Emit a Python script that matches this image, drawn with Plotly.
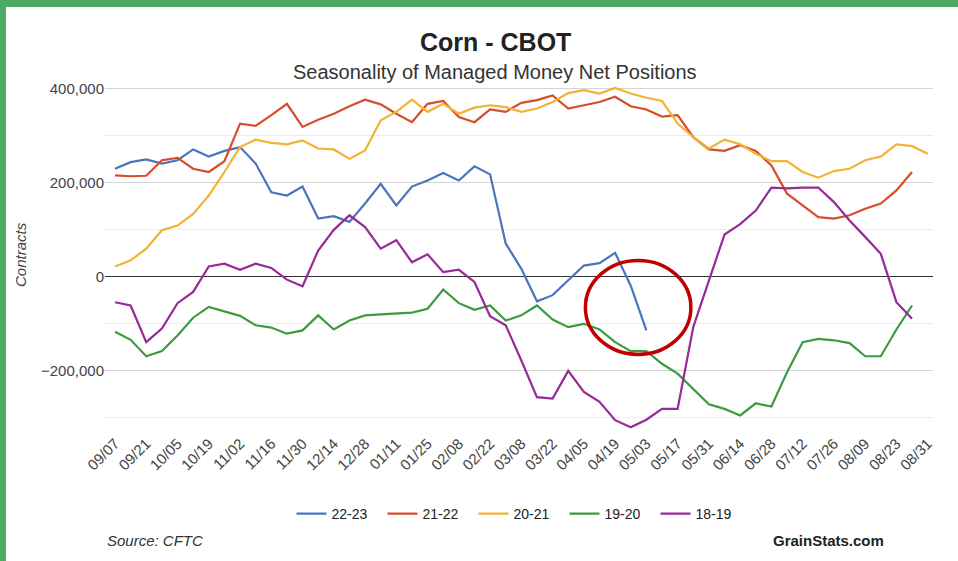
import plotly.graph_objects as go

# weekly x positions (week index from 09/07) and axis labels
weeks = list(range(53))
tick_labels = ["09/07", "09/21", "10/05", "10/19", "11/02", "11/16", "11/30", "12/14", "12/28",
               "01/11", "01/25", "02/08", "02/22", "03/08", "03/22", "04/05", "04/19", "05/03",
               "05/17", "05/31", "06/14", "06/28", "07/12", "07/26", "08/09", "08/23", "08/31"]

# managed money net positions (contracts)
s_22_23 = [229000, 243000, 249000, 240000, 247000, 270000, 255000, 267000, 275000, 240000,
           179000, 172000, 191000, 123000, 128000, 116000, 155000, 197000, 151000, 191000,
           204000, 220000, 204000, 234000, 217000, 70000, 16000, -53000, -40000, -9000,
           23000, 28000, 50000, -20000, -115000]
s_21_22 = [215000, 213000, 214000, 247000, 252000, 229000, 222000, 245000, 325000, 320000,
           343000, 367000, 318000, 333000, 346000, 362000, 376000, 366000, 346000, 328000,
           367000, 373000, 339000, 328000, 355000, 350000, 369000, 375000, 385000, 357000,
           364000, 371000, 382000, 362000, 355000, 340000, 343000, 296000, 270000, 267000,
           279000, 267000, 236000, 176000, 151000, 126000, 123000, 130000, 144000, 155000,
           183000, 222000]
s_20_21 = [21000, 34000, 59000, 98000, 108000, 133000, 172000, 222000, 275000, 291000,
           284000, 281000, 289000, 272000, 270000, 250000, 268000, 332000, 350000, 376000,
           350000, 367000, 346000, 359000, 364000, 360000, 350000, 357000, 371000, 390000,
           396000, 389000, 401000, 389000, 380000, 373000, 325000, 296000, 272000, 291000,
           281000, 261000, 245000, 245000, 222000, 210000, 224000, 229000, 247000, 255000,
           281000, 277000, 261000]
s_19_20 = [-118000, -135000, -170000, -159000, -126000, -88000, -65000, -74000, -84000, -104000,
           -109000, -122000, -115000, -83000, -113000, -94000, -83000, -81000, -79000, -77000,
           -69000, -28000, -57000, -71000, -62000, -94000, -83000, -62000, -92000, -108000,
           -101000, -113000, -140000, -159000, -159000, -186000, -207000, -239000, -272000, -282000,
           -296000, -270000, -277000, -204000, -140000, -133000, -136000, -142000, -170000, -170000,
           -113000, -62000]
s_18_19 = [-55000, -62000, -140000, -111000, -57000, -33000, 21000, 27000, 14000, 27000,
           18000, -7000, -21000, 55000, 99000, 130000, 105000, 59000, 77000, 30000,
           47000, 9000, 14000, -12000, -85000, -104000, -179000, -257000, -260000, -201000,
           -246000, -267000, -306000, -321000, -305000, -282000, -282000, -108000, -9000, 89000,
           111000, 140000, 189000, 187000, 189000, 189000, 158000, 119000, 84000, 48000,
           -55000, -90000]

series = [("22-23", s_22_23, "#4a74bd"),
          ("21-22", s_21_22, "#d84c2c"),
          ("20-21", s_20_21, "#f3b233"),
          ("19-20", s_19_20, "#3c9a40"),
          ("18-19", s_18_19, "#952a98")]

W, H = 958, 561
L, R, T, B = 105, 25, 86, 130


def px_x(px):
    return (px - L) / (W - L - R)


def px_y(py):
    return (H - B - py) / (H - T - B)


fig = go.Figure()
for name, vals, color in series:
    fig.add_trace(go.Scatter(x=weeks[:len(vals)], y=vals, name=name, mode="lines",
                             line=dict(color=color, width=2.2)))

fig.update_layout(
    width=W, height=H,
    margin=dict(l=L, r=R, t=T, b=B),
    plot_bgcolor="#FFFFFF",
    paper_bgcolor="#FFFFFF",
    font=dict(family="Arial, Liberation Sans, sans-serif", size=15, color="#444444"),
    showlegend=True,
    legend=dict(orientation="h", x=0.5, xanchor="center", y=px_y(514), yanchor="middle",
                entrywidth=46, entrywidthmode="pixels",
                font=dict(size=14, color="#222222")),
    xaxis=dict(
        range=[-0.64, 52.34],
        tickvals=weeks[::2] + [52],
        ticktext=tick_labels,
        tickangle=-45,
        ticklabelstandoff=0,
        showgrid=False, zeroline=False, showline=False, ticks="",
        tickfont=dict(size=15, color="#444444"),
    ),
    yaxis=dict(
        range=[-329000, 405000],
        tick0=0, dtick=200000,
        tickformat=",",
        showgrid=True, gridcolor="#d4d4d4",
        minor=dict(dtick=100000, showgrid=True, gridcolor="#ececec"),
        zeroline=True, zerolinecolor="#333333", zerolinewidth=1,
        showline=False, ticks="",
        tickfont=dict(size=15, color="#444444"),
    ),
)

# titles and footnotes
fig.add_annotation(text="<b>Corn - CBOT</b>", xref="paper", yref="paper", x=px_x(495), y=px_y(42),
                   showarrow=False, font=dict(size=25, color="#222222"), xanchor="center", yanchor="middle")
fig.add_annotation(text="Seasonality of Managed Money Net Positions", xref="paper", yref="paper",
                   x=px_x(495), y=px_y(72), showarrow=False, font=dict(size=20, color="#333333"),
                   xanchor="center", yanchor="middle")
fig.add_annotation(text="<i>Contracts</i>", xref="paper", yref="paper", x=px_x(20), y=px_y(255),
                   textangle=-90, showarrow=False, font=dict(size=15, color="#444444"),
                   xanchor="center", yanchor="middle")
fig.add_annotation(text="<i>Source: CFTC</i>", xref="paper", yref="paper", x=px_x(105), y=px_y(540),
                   showarrow=False, font=dict(size=15, color="#333333"), xanchor="left", yanchor="middle")
fig.add_annotation(text="<b>GrainStats.com</b>", xref="paper", yref="paper", x=px_x(886), y=px_y(540),
                   showarrow=False, font=dict(size=15, color="#222222"), xanchor="right", yanchor="middle")

# red highlight circle
fig.add_shape(type="circle", xref="x", yref="y", x0=30.1, x1=36.85, y0=-166000, y1=34000,
              line=dict(color="#c00000", width=3.5))

# green frame at top and left edge
fig.add_shape(type="rect", xref="paper", yref="paper", x0=px_x(0), x1=px_x(W), y0=px_y(7), y1=px_y(0),
              line=dict(width=0), fillcolor="#4caa62", layer="above")
fig.add_shape(type="rect", xref="paper", yref="paper", x0=px_x(0), x1=px_x(6), y0=px_y(H), y1=px_y(0),
              line=dict(width=0), fillcolor="#4caa62", layer="above")

fig.write_html("out.html", config={"displayModeBar": False},
               post_script="document.body.style.margin='0';document.body.style.overflow='hidden';")
